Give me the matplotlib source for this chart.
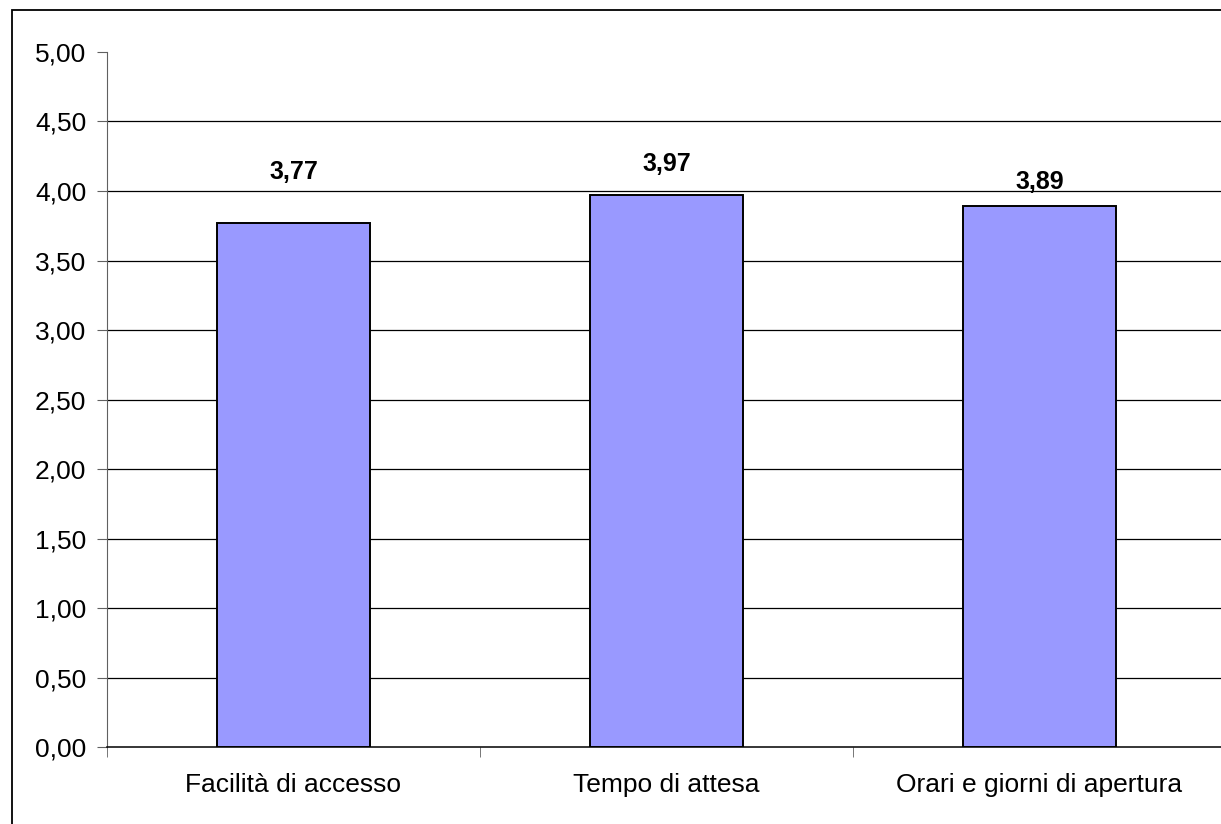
import matplotlib.pyplot as plt
from matplotlib.patches import Rectangle
from matplotlib.ticker import FuncFormatter

categories = ["Facilità di accesso", "Tempo di attesa", "Orari e giorni di apertura"]
scores = [3.77, 3.97, 3.89]
y_ticks = [0.0, 0.5, 1.0, 1.5, 2.0, 2.5, 3.0, 3.5, 4.0, 4.5, 5.0]

plt.rcParams['font.family'] = ['Liberation Sans', 'DejaVu Sans']

fig = plt.figure(figsize=(12.21, 8.24), dpi=100)
ax = fig.add_axes([0.0876, 0.0934, 0.9165, 0.8435])

# chart frame, running off the right and bottom edges
fig.patches.append(Rectangle((12 / 1221, -0.1), 1.2, 1.1 - 10 / 824, transform=fig.transFigure,
                             fill=False, edgecolor='black', linewidth=1.3))

x = list(range(len(categories)))
ax.bar(x, scores, width=0.41, color='#9999FF', edgecolor='black', linewidth=1.4, zorder=3)

# value labels sit at slightly different heights above each bar
label_lift = [28, 14, 9]
for xi, v, lift in zip(x, scores, label_lift):
    ax.annotate(f"{v:.2f}".replace('.', ','), (xi, v), xytext=(0, lift), textcoords='offset points',
                ha='center', va='bottom', fontsize=18, fontweight='bold')

ax.set_xlim(-0.5, 2.5)
ax.set_ylim(0, 5)
ax.set_yticks(y_ticks)
ax.yaxis.set_major_formatter(FuncFormatter(lambda v, _: f"{v:.2f}".replace('.', ',')))
for yv in y_ticks[1:-1]:
    ax.axhline(yv, color='black', linewidth=0.9, zorder=1)

ax.set_xticks(x)
ax.set_xticklabels(categories)
ax.set_xticks([-0.5, 0.5, 1.5, 2.5], minor=True)
ax.tick_params(axis='x', which='major', length=0, pad=19, labelsize=19)
ax.tick_params(axis='x', which='minor', length=7, direction='out', color='#606060')
ax.tick_params(axis='y', length=7, direction='out', pad=8, labelsize=19, color='#606060')

for side in ('top', 'right'):
    ax.spines[side].set_visible(False)
ax.spines['left'].set_color('#606060')
ax.spines['bottom'].set_color('black')
ax.spines['bottom'].set_linewidth(1.1)

fig.savefig('out.png', dpi=100)
